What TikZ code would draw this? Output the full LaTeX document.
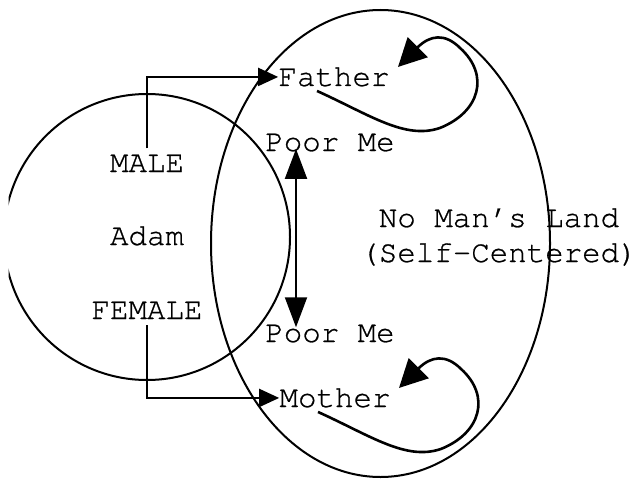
\documentclass[tikz,border=0pt]{standalone}
\usepackage{fontspec}
\usepackage{tikz}
\usetikzlibrary{arrows.meta}
\newfontfamily\courier{texgyrecursor-regular.otf}[FakeBold=0.8]

\begin{document}
\begin{tikzpicture}[x=0.5pt, y=-0.5pt,
    word/.style={font=\courier\fontsize{15.4}{17.5}\selectfont, inner sep=3pt, anchor=base},
    branch/.style={line width=1pt, -{Triangle[length=10pt, width=9pt]}},
    selfloop/.style={line width=1.3pt, -{Triangle[length=14pt, width=14pt]}}]
        \useasboundingbox (0,0) rectangle (642,481);
        % Adam (cut at the left edge) and No Man's Land
        \begin{scope}
            \clip (8.5,0) rectangle (642,481);
            \draw[line width=1pt] (147,237) circle [radius=143];
        \end{scope}
        \draw[line width=1pt] (380.5,243.5) ellipse [x radius=169.5, y radius=233.5];
        \node[word] (male) at (147,172) {MALE};
        \node[word] (adam) at (147,245) {Adam};
        \node[word] (female) at (147,319) {FEMALE};
        \node[word, inner sep=0pt] (father) at (334,86) {Father};
        \node[word] (poortop) at (330,151) {Poor Me};
        \node[word] (poorbot) at (330,342) {Poor Me};
        \node[word, inner sep=0pt] (mother) at (335,407) {Mother};
        \node[word, align=center] (land) at (499,262) {No Man’s Land\\(Self-Centered)};
        \draw[branch] (male.north) |- (father.west);
        \draw[branch] (female.south) |- (mother.west);
        \draw[line width=1pt, {Triangle[length=15pt, width=11pt]}-{Triangle[length=15pt, width=11pt]}]
            ([shift={(-34,-9)}]poortop.south) -- ([shift={(-34,9)}]poorbot.north);
        \foreach \who in {father, mother} {
            \begin{scope}[shift={(\who.center)}]
                \draw[selfloop] (-17,14) .. controls (36,38) and (71,63) .. (106,51)
                    .. controls (146,35) and (156,-2) .. (126,-29)
                    .. controls (111,-44) and (96,-42) .. (64,-10);
            \end{scope}
        }
    \end{tikzpicture}
\end{document}
